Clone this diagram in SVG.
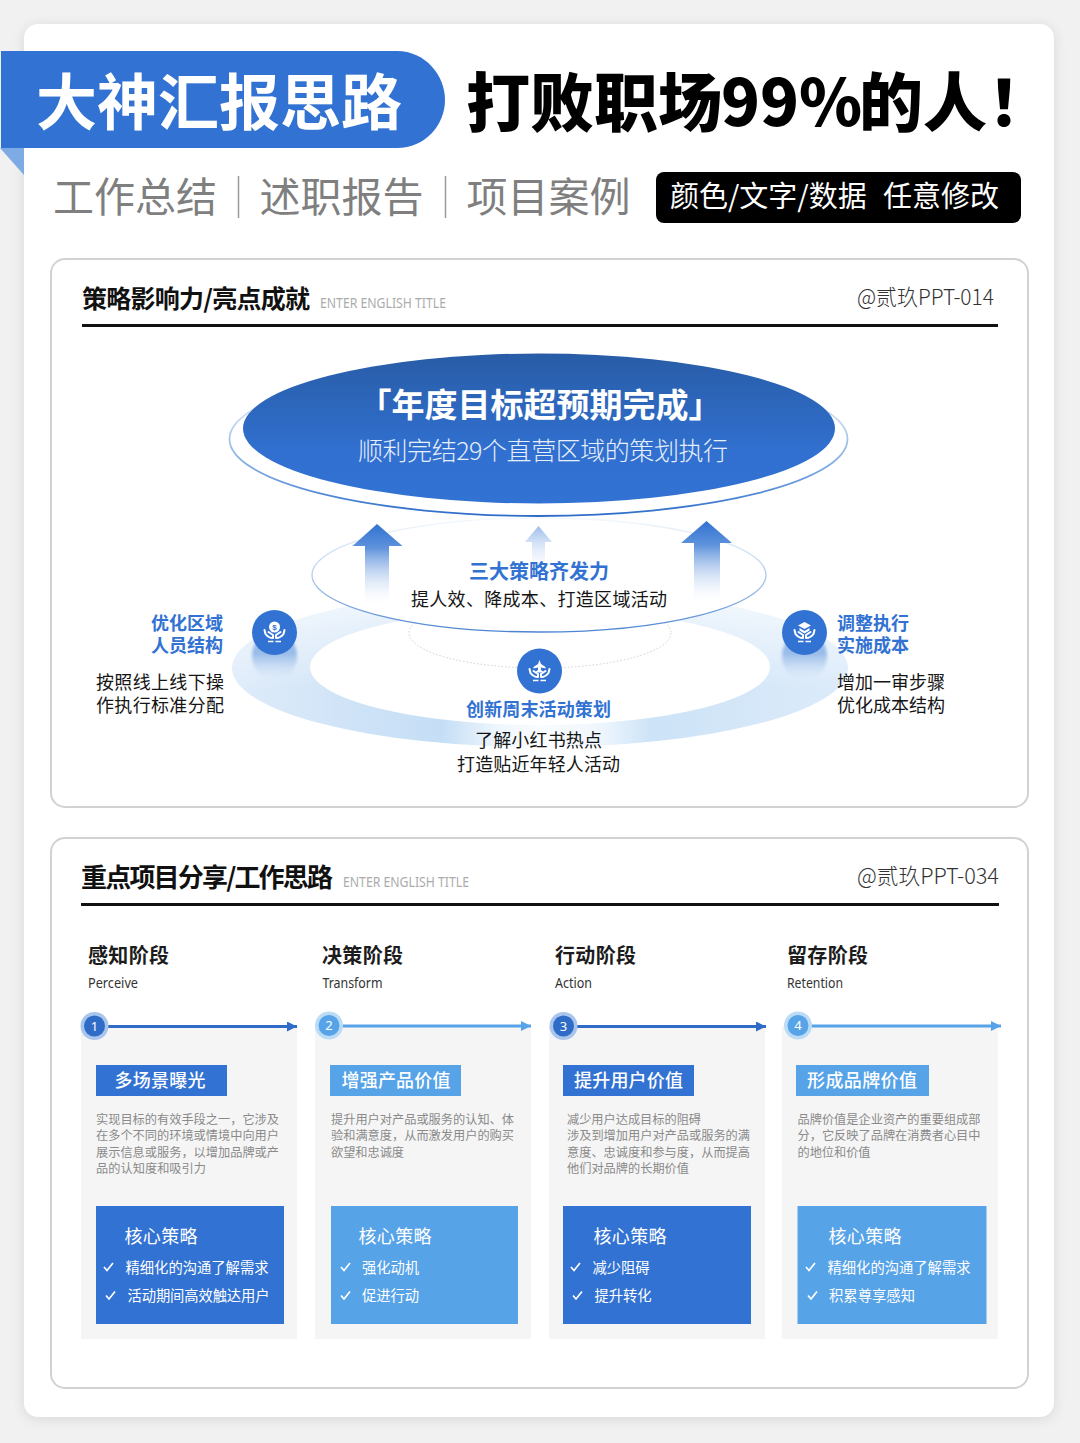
<svg xmlns="http://www.w3.org/2000/svg" width="1080" height="1443" viewBox="0 0 1080 1443">
<style>
text{font-family:"Noto Sans CJK SC","Noto Sans",sans-serif}
.panel{fill:#fff;stroke:#d2d2d2;stroke-width:2}
.h1{font-size:25px;font-weight:700;fill:#111}
.en{font-family:"Noto Sans","Noto Sans CJK SC",sans-serif;font-size:14px;fill:#ababab}
.at{font-size:22px;font-weight:300;fill:#333}
.sub{font-size:41px;font-weight:400;fill:#7f7f7f}
.sep{stroke:#9a9a9a;stroke-width:1.5}
.blue{font-size:18px;font-weight:700;fill:#3272d2}
.blk{font-size:18px;font-weight:400;fill:#151515}
.stage{font-size:20px;font-weight:700;fill:#1c1c1c}
.stageen{font-family:"Noto Sans",sans-serif;font-size:13.5px;fill:#333}
.col{fill:#f5f5f5}
.tag{font-size:18px;font-weight:500;fill:#fff;text-anchor:middle}
.desc{font-size:12.2px;fill:#8a8a8a}
.core{font-size:18px;font-weight:400;fill:#fff}
.item{font-size:14.3px;font-weight:400;fill:#fff}
.chk{fill:none;stroke:#fff;stroke-width:1.7}
.num{font-family:"Noto Sans",sans-serif;font-size:13px;fill:#fff;text-anchor:middle}
.d{fill:#3272d2}.l{fill:#57a3e8}
.ds{stroke:#2e6cc8;stroke-width:3}.ls{stroke:#57a3e8;stroke-width:3}
.hand{fill:none;stroke:#fff;stroke-width:2;stroke-linecap:round;stroke-linejoin:round}
.bar{stroke:#fff;stroke-width:1.5}
</style>
<defs>
<filter id="sh" x="-5%" y="-5%" width="110%" height="110%"><feGaussianBlur stdDeviation="7"/></filter>
<filter id="soft" x="-20%" y="-20%" width="140%" height="140%"><feGaussianBlur stdDeviation="1.500"/></filter>
<linearGradient id="big" x1="0" y1="0" x2="0" y2="1"><stop offset="0" stop-color="#285ca6"/><stop offset=".65" stop-color="#3170d0"/><stop offset="1" stop-color="#3272d2"/></linearGradient>
<linearGradient id="rim" x1="0" y1="0" x2="0" y2="1"><stop offset=".35" stop-color="#c9dcf3"/><stop offset=".75" stop-color="#6f9fdf"/><stop offset="1" stop-color="#2e6cc8"/></linearGradient>
<linearGradient id="mid" x1="0" y1="0" x2="0" y2="1"><stop offset="0" stop-color="#f4f8fc"/><stop offset=".5" stop-color="#b4cdec"/><stop offset="1" stop-color="#4c84d2"/></linearGradient>
<linearGradient id="ringH" x1="0" y1="0" x2="1" y2="0"><stop offset="0" stop-color="#dfecfa"/><stop offset=".2" stop-color="#cfe3f7"/><stop offset=".34" stop-color="#c5def6"/><stop offset=".43" stop-color="#eef6fd"/><stop offset=".5" stop-color="#fafcff"/><stop offset=".6" stop-color="#eef6fd"/><stop offset=".68" stop-color="#cde3f7"/><stop offset="1" stop-color="#dcebfa"/></linearGradient>
<linearGradient id="fade" gradientUnits="userSpaceOnUse" x1="0" y1="595" x2="0" y2="690"><stop offset="0" stop-color="#fff" stop-opacity=".25"/><stop offset="1" stop-color="#fff" stop-opacity="1"/></linearGradient>
<mask id="ringMask" maskUnits="userSpaceOnUse" x="220" y="580" width="640" height="180"><rect x="220" y="580" width="640" height="180" fill="url(#fade)"/></mask>
<linearGradient id="arr" x1="0" y1="0" x2="0" y2="1"><stop offset="0" stop-color="#3272d2"/><stop offset=".3" stop-color="#5e92dc"/><stop offset="1" stop-color="#ffffff" stop-opacity=".2"/></linearGradient>
<linearGradient id="arr2" x1="0" y1="0" x2="0" y2="1"><stop offset="0" stop-color="#9dbdea"/><stop offset="1" stop-color="#ffffff" stop-opacity=".2"/></linearGradient>
<linearGradient id="refl" x1="0" y1="0" x2="0" y2="1"><stop offset=".45" stop-color="#98bbe8"/><stop offset="1" stop-color="#d6e6f8" stop-opacity="0"/></linearGradient>
<g id="hands">
<path class="hand" d="M-10,-2 L-9,2 Q-6,6 -1.5,6 L-1.5,3 L-6,0"/>
<path class="hand" d="M10,-2 L9,2 Q6,6 1.5,6 L1.5,3 L6,0"/>
<path class="bar" d="M-6.5,9.5 H-1 M1,9.5 H6.5"/>
</g>
<marker id="tipD" markerUnits="userSpaceOnUse" markerWidth="10" markerHeight="10" refX="10" refY="5" orient="auto"><path d="M0,0 L10,5 L0,10 Z" fill="#2e6cc8"/></marker>
<marker id="tipL" markerUnits="userSpaceOnUse" markerWidth="10" markerHeight="10" refX="10" refY="5" orient="auto"><path d="M0,0 L10,5 L0,10 Z" fill="#57a3e8"/></marker>
</defs>

<rect width="1080" height="1443" fill="#f1f1f1"/>
<rect x="24" y="26" width="1030" height="1393" rx="14" fill="#000" opacity=".1" filter="url(#sh)"/>
<rect id="card" x="24" y="24" width="1030" height="1393" rx="14" fill="#fff"/>

<g id="banner">
<path d="M0,148 H24 V175 Z" fill="#7eabe3"/>
<path d="M1,51 H397 C425,51 445,75 445,100 C445,125 425,148 397,148 H1 Z" fill="#3272d2"/>
<text x="36" y="125" font-size="61" font-weight="700" fill="#fff" textLength="366" lengthAdjust="spacing">大神汇报思路</text>
<text y="125.500" font-size="64" font-weight="900" fill="#000"><tspan x="466">打败职场</tspan><tspan x="721">99%</tspan><tspan x="859">的人</tspan><tspan x="988">！</tspan></text>
</g>
<g id="subtitle">
<text class="sub" x="53" y="212" textLength="164">工作总结</text>
<line class="sep" x1="238.500" y1="176" x2="238.500" y2="218"/>
<text class="sub" x="259.500" y="212" textLength="164">述职报告</text>
<line class="sep" x1="445.500" y1="176" x2="445.500" y2="218"/>
<text class="sub" x="466.500" y="212" textLength="164">项目案例</text>
<rect x="656" y="172" width="365" height="51" rx="8" fill="#000"/>
<text y="207" font-size="29" fill="#fff"><tspan x="670">颜色/文字/数据</tspan><tspan x="883">任意修改</tspan></text>
</g>

<g id="panel-1">
<rect class="panel" x="51" y="259" width="977" height="548" rx="14"/>
<text class="h1" x="82" y="307.500" textLength="228">策略影响力/亮点成就</text>
<text class="en" x="320" y="308" textLength="126" lengthAdjust="spacingAndGlyphs">ENTER ENGLISH TITLE</text>
<text class="at" x="857" y="304.500" textLength="137" lengthAdjust="spacingAndGlyphs">@贰玖PPT-014</text>
<rect x="82" y="324" width="916" height="3" fill="#111"/>
</g>

<g id="rings">
<path mask="url(#ringMask)" d="M232,668 a308,79 0 1,0 616,0 a308,79 0 1,0 -616,0 Z M310,667 a230,58 0 1,0 460,0 a230,58 0 1,0 -460,0 Z" fill="url(#ringH)" fill-rule="evenodd"/>
<ellipse cx="540" cy="633" rx="131" ry="35" fill="none" stroke="#cfcfcf" stroke-width="1" stroke-dasharray="1.500 2"/>
</g>
<g id="oval-top">
<ellipse cx="538.500" cy="439" rx="309" ry="77" fill="#fff" stroke="url(#rim)" stroke-width="1.800"/>
<ellipse cx="539" cy="428.500" rx="296" ry="75" fill="url(#big)"/>
<text x="540" y="416.500" font-size="33" font-weight="700" fill="#fff" text-anchor="middle">「年度目标超预期完成」</text>
<text x="358" y="460" font-size="25" font-weight="300" fill="#e6eefa" textLength="370" lengthAdjust="spacing">顺利完结29个直营区域的策划执行</text>
</g>
<g id="oval-mid">
<ellipse cx="539" cy="575" rx="227" ry="57" fill="#fff" stroke="url(#mid)" stroke-width="1.300"/>
<path d="M377,524 L402.500,546 H389 V603 H365 V546 H352.500 Z" fill="url(#arr)"/>
<path d="M538.500,526 L552,542 H545 V572 H532 V542 H525 Z" fill="url(#arr2)"/>
<path d="M706.500,521 L732,543 H720 V601 H694 V543 H681 Z" fill="url(#arr)"/>
<text x="469" y="579" font-size="20" font-weight="700" fill="#3272d2" textLength="140">三大策略齐发力</text>
<text class="blk" x="411" y="606" textLength="256">提人效、降成本、打造区域活动</text>
</g>

<g id="node-left">
<ellipse cx="274.500" cy="656" rx="22.500" ry="25" fill="url(#refl)" filter="url(#soft)"/>
<circle cx="274.500" cy="632.500" r="22.500" fill="#3272d2"/>
<circle cx="274.500" cy="627" r="5.500" fill="#fff"/>
<text x="274.500" y="630" font-size="8" font-weight="700" fill="#3272d2" text-anchor="middle" style="font-family:'Liberation Sans',sans-serif">$</text>
<use href="#hands" x="274.500" y="632"/>
<text class="blue" x="223" y="630" text-anchor="end" textLength="72">优化区域</text>
<text class="blue" x="223" y="652" text-anchor="end" textLength="72">人员结构</text>
<text class="blk" x="96" y="689" textLength="128">按照线上线下操</text>
<text class="blk" x="96" y="712" textLength="128">作执行标准分配</text>
</g>
<g id="node-center">
<circle cx="539.500" cy="671" r="22.500" fill="#3272d2"/>
<path d="M539.500,660 L541,664 L545.500,667 V668.500 L541,667.500 V670 L543,671.500 V672.500 H536 V671.500 L538,670 V667.500 L533.500,668.500 V667 L538,664 Z" fill="#fff"/>
<use href="#hands" x="539.500" y="671"/>
<text class="blue" x="466" y="716" textLength="145">创新周末活动策划</text>
<text class="blk" x="475" y="747" textLength="127">了解小红书热点</text>
<text class="blk" x="457" y="771" textLength="163">打造贴近年轻人活动</text>
</g>
<g id="node-right">
<ellipse cx="804.500" cy="656" rx="22.500" ry="25" fill="url(#refl)" filter="url(#soft)"/>
<circle cx="804.500" cy="632.500" r="22.500" fill="#3272d2"/>
<path d="M804.500,622 L811,625.500 L804.500,629 L798,625.500 Z M799.500,628 L804.500,631 L809.500,628 V630.500 L804.500,633.500 L799.500,630.500 Z" fill="#fff"/>
<use href="#hands" x="804.500" y="632"/>
<text class="blue" x="837" y="630" textLength="72">调整执行</text>
<text class="blue" x="837" y="652" textLength="72">实施成本</text>
<text class="blk" x="837" y="689" textLength="108">增加一审步骤</text>
<text class="blk" x="837" y="712" textLength="108">优化成本结构</text>
</g>

<g id="panel-2">
<rect class="panel" x="51" y="838" width="977" height="550" rx="14"/>
<text class="h1" x="81" y="887" style="font-size:26px" textLength="252">重点项目分享/工作思路</text>
<text class="en" x="343" y="887" textLength="126" lengthAdjust="spacingAndGlyphs">ENTER ENGLISH TITLE</text>
<text class="at" x="857" y="883.500" textLength="142" lengthAdjust="spacingAndGlyphs">@贰玖PPT-034</text>
<rect x="81" y="903" width="918" height="3" fill="#111"/>
<text class="stage" x="88" y="962.500" textLength="81">感知阶段</text>
<text class="stageen" x="88" y="988" textLength="50" lengthAdjust="spacingAndGlyphs">Perceive</text>
<text class="stage" x="322" y="962.500" textLength="81">决策阶段</text>
<text class="stageen" x="322.500" y="988" textLength="60" lengthAdjust="spacingAndGlyphs">Transform</text>
<text class="stage" x="555" y="962.500" textLength="81">行动阶段</text>
<text class="stageen" x="555" y="988" textLength="37" lengthAdjust="spacingAndGlyphs">Action</text>
<text class="stage" x="787" y="962.500" textLength="81">留存阶段</text>
<text class="stageen" x="787" y="988" textLength="56" lengthAdjust="spacingAndGlyphs">Retention</text>
</g>

<g id="col-1">
<rect class="col" x="81" y="1026" width="216" height="313"/>
<rect class="d" x="96" y="1065" width="131" height="31"/>
<text class="tag" x="160" y="1087" textLength="91">多场景曝光</text>
<text class="desc" x="96" y="1123.500" textLength="183">实现目标的有效手段之一，它涉及</text><text class="desc" x="96" y="1140" textLength="183">在多个不同的环境或情境中向用户</text><text class="desc" x="96" y="1156.500" textLength="183">展示信息或服务，以增加品牌或产</text><text class="desc" x="96" y="1173" textLength="110">品的认知度和吸引力</text>
<rect class="d" x="96" y="1206" width="188" height="118"/>
<text class="core" x="124.500" y="1242.500" textLength="73">核心策略</text>
<path class="chk" d="M104,1267 L107,1270.500 L113,1263"/>
<text class="item" x="125.500" y="1272.500" textLength="143">精细化的沟通了解需求</text>
<path class="chk" d="M106,1295.500 L109,1299 L115,1291.500"/>
<text class="item" x="127.500" y="1301" textLength="142">活动期间高效触达用户</text>
</g>
<g id="col-2">
<rect class="col" x="315" y="1026" width="216" height="313"/>
<rect class="l" x="330" y="1065" width="131" height="31"/>
<text class="tag" x="396" y="1087" textLength="109">增强产品价值</text>
<text class="desc" x="331" y="1123.500" textLength="183">提升用户对产品或服务的认知、体</text><text class="desc" x="331" y="1140" textLength="183">验和满意度，从而激发用户的购买</text><text class="desc" x="331" y="1156.500" textLength="73">欲望和忠诚度</text>
<rect class="l" x="331" y="1206" width="187" height="118"/>
<text class="core" x="358.500" y="1242.500" textLength="73">核心策略</text>
<path class="chk" d="M341,1267 L344,1270.500 L350,1263"/>
<text class="item" x="362" y="1272.500" textLength="57">强化动机</text>
<path class="chk" d="M341,1295.500 L344,1299 L350,1291.500"/>
<text class="item" x="362" y="1301" textLength="57">促进行动</text>
</g>
<g id="col-3">
<rect class="col" x="549" y="1026" width="216" height="313"/>
<rect class="d" x="563" y="1065" width="131" height="31"/>
<text class="tag" x="628.500" y="1087" textLength="109">提升用户价值</text>
<text class="desc" x="567" y="1123.500" textLength="134">减少用户达成目标的阻碍</text><text class="desc" x="567" y="1140" textLength="183">涉及到增加用户对产品或服务的满</text><text class="desc" x="567" y="1156.500" textLength="183">意度、忠诚度和参与度，从而提高</text><text class="desc" x="567" y="1173" textLength="122">他们对品牌的长期价值</text>
<rect class="d" x="563" y="1206" width="188" height="118"/>
<text class="core" x="593.500" y="1242.500" textLength="73">核心策略</text>
<path class="chk" d="M571,1267 L574,1270.500 L580,1263"/>
<text class="item" x="592.500" y="1272.500" textLength="57">减少阻碍</text>
<path class="chk" d="M573,1295.500 L576,1299 L582,1291.500"/>
<text class="item" x="594.500" y="1301" textLength="57">提升转化</text>
</g>
<g id="col-4">
<rect class="col" x="782" y="1026" width="216" height="313"/>
<rect class="l" x="796" y="1065" width="133" height="31"/>
<text class="tag" x="862" y="1087" textLength="110">形成品牌价值</text>
<text class="desc" x="797.500" y="1123.500" textLength="183">品牌价值是企业资产的重要组成部</text><text class="desc" x="797.500" y="1140" textLength="183">分，它反映了品牌在消费者心目中</text><text class="desc" x="797.500" y="1156.500" textLength="73">的地位和价值</text>
<rect class="l" x="797.500" y="1206" width="189" height="118"/>
<text class="core" x="828.500" y="1242.500" textLength="73">核心策略</text>
<path class="chk" d="M806,1267 L809,1270.500 L815,1263"/>
<text class="item" x="827.500" y="1272.500" textLength="143">精细化的沟通了解需求</text>
<path class="chk" d="M808,1295.500 L811,1299 L817,1291.500"/>
<text class="item" x="829" y="1301" textLength="86">积累尊享感知</text>
</g>

<g id="connectors">
<line class="ds" x1="94" y1="1026.500" x2="297" y2="1026.500" marker-end="url(#tipD)"/>
<line class="ls" x1="329" y1="1026" x2="531" y2="1026" marker-end="url(#tipL)"/>
<line class="ds" x1="563" y1="1026.500" x2="766" y2="1026.500" marker-end="url(#tipD)"/>
<line class="ls" x1="798" y1="1026" x2="1001" y2="1026" marker-end="url(#tipL)"/>
</g>
<g id="badges">
<circle cx="94.500" cy="1026" r="14" fill="#a9c5ec"/><circle cx="94.500" cy="1026" r="10.500" fill="#2e6cc8"/><text class="num" x="94.500" y="1030.500">1</text>
<circle cx="329" cy="1025.500" r="14" fill="#bcdcf6"/><circle cx="329" cy="1025.500" r="10.500" fill="#57a3e8"/><text class="num" x="329" y="1030">2</text>
<circle cx="563.500" cy="1026" r="14" fill="#a9c5ec"/><circle cx="563.500" cy="1026" r="10.500" fill="#2e6cc8"/><text class="num" x="563.500" y="1030.500">3</text>
<circle cx="798" cy="1025.500" r="14" fill="#bcdcf6"/><circle cx="798" cy="1025.500" r="10.500" fill="#57a3e8"/><text class="num" x="798" y="1030">4</text>
</g>
</svg>
